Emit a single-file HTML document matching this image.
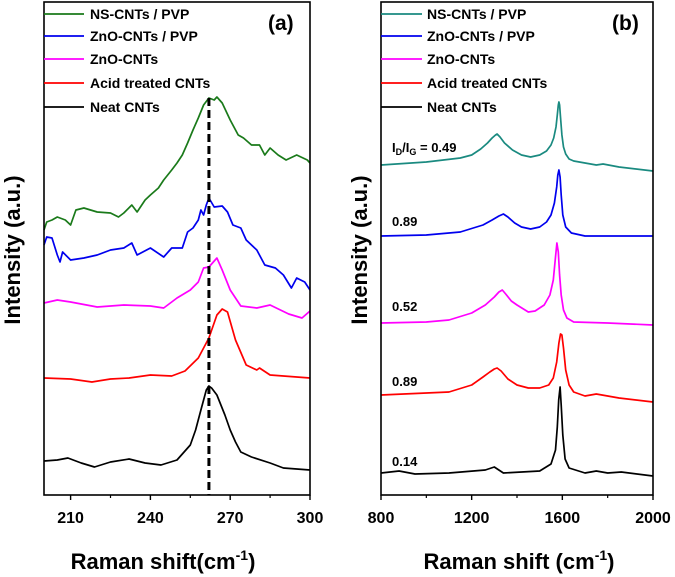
<!DOCTYPE html>
<html><head><meta charset="utf-8"><style>
body{margin:0;background:#fff}
svg{display:block;font-family:"Liberation Sans",Arial,sans-serif;font-weight:bold}
</style></head><body>
<svg id="c" width="675" height="577" viewBox="0 0 675 577" xmlns="http://www.w3.org/2000/svg"></svg>
<script>
// Panel (a) data: x = Raman shift, y = intensity height (a.u.)
const aX_green=[200,201,203,205,208,210,212,215,220,225,228,230,233,235,238,240,243,245,248,250,252,254,256,258,260,262,264,265,267,270,273,275,278,281,283,285,288,291,295,299,300];
const aY_green=[265,273,275,278,275,270,285,287,283,282,278,282,290,283,295,300,307,315,325,332,340,352,365,377,390,397,395,398,392,375,360,357,350,350,340,347,340,335,340,335,332];
const aX_blue=[200,201,203,205,206,207,210,215,220,225,230,233,235,240,245,248,252,254,256,258,259,260,261,262,264,267,269,271,274,276,280,283,287,290,293,295,298,300];
const aY_blue=[250,258,257,240,233,243,235,237,240,245,247,252,240,247,238,247,247,263,267,275,285,280,290,297,288,289,283,270,267,255,245,230,227,220,207,217,213,205];
const aX_mag=[200,205,210,220,230,240,245,250,255,258,260,262,265,267,270,274,280,285,292,297,300];
const aY_mag=[192,195,193,188,190,189,187,197,205,213,227,228,237,225,205,189,187,190,181,177,184];
const aX_red=[200,210,218,225,232,240,248,253,258,262,265,267,269,272,276,280,281,285,300];
const aY_red=[117,116,113,116,117,120,119,124,137,157,180,186,183,155,130,125,127,120,117];
const aX_blk=[200,205,209,214,219,225,232,238,244,250,255,257,259,261,262,263,265,268,270,272,274,278,285,290,295,300];
const aY_blk=[34,35,37,32,28,33,36,32,30,35,50,65,85,105,109,107,100,80,65,53,43,38,32,27,26,25];
const aTicks=[210,240,270,300];
const aMinor=[225,255,285];
// Panel (b) data
const bX_teal=[800,1000,1150,1200,1240,1270,1290,1305,1312,1325,1345,1380,1420,1460,1500,1530,1550,1562,1572,1578,1582,1585,1588,1592,1598,1605,1615,1630,1650,1700,1750,1780,1850,2000];
const bY_teal=[330,333,337,340,346,352,357,360,361,358,352,345,340,338,340,344,350,357,368,380,390,393,390,378,360,348,341,336,334,332,330,331,328,324];
const bX_blue=[800,1000,1150,1250,1290,1320,1340,1360,1390,1420,1460,1500,1530,1550,1565,1575,1580,1585,1590,1595,1602,1615,1640,1700,2000];
const bY_blue=[259,260,263,270,275,279,281,278,272,268,266,268,273,280,292,308,320,325,318,300,280,268,262,259,259];
const bX_mag=[800,1000,1100,1200,1260,1300,1320,1335,1350,1375,1400,1450,1480,1520,1545,1560,1570,1576,1582,1588,1595,1605,1620,1650,1800,2000];
const bY_mag=[172,173,175,182,190,198,203,205,201,194,190,183,184,190,200,215,238,252,243,220,200,185,177,173,172,170];
const bX_red=[800,1100,1200,1250,1280,1300,1312,1330,1360,1400,1450,1500,1540,1560,1575,1585,1592,1598,1605,1615,1630,1650,1700,1750,1850,2000];
const bY_red=[100,103,110,118,123,126,127,124,116,110,107,107,110,117,133,152,161,160,147,125,110,103,99,101,97,93];
const bX_blk=[800,880,950,1100,1260,1300,1340,1500,1550,1570,1578,1584,1590,1595,1602,1612,1630,1700,1750,1800,1860,2000];
const bY_blk=[22,24,21,22,25,28,22,24,31,45,68,95,108,90,60,36,27,22,24,22,23,19];
const bTicks=[800,1200,1600,2000];
const bMinor=[1000,1400,1800];
const labels=["NS-CNTs / PVP","ZnO-CNTs / PVP","ZnO-CNTs","Acid treated CNTs","Neat CNTs"];
const ratios=["0.49","0.89","0.52","0.89","0.14"];

const NS="http://www.w3.org/2000/svg";
const svg=document.getElementById('c');
function el(t,a,p){const e=document.createElementNS(NS,t);for(const k in a)e.setAttribute(k,a[k]);(p||svg).appendChild(e);return e;}
const TOP=2,BOT=495,YMAX=493;
const sy=v=>BOT-v*(BOT-TOP)/YMAX;
function panel(L,R,x0,x1,series,ticks,minor,name){
  const sx=v=>L+(v-x0)/(x1-x0)*(R-L);
  const g=el('g',{});
  
  
  series.forEach(s=>{
    const d=s.x.map((v,i)=>(i?'L':'M')+sx(v).toFixed(1)+','+sy(s.y[i]).toFixed(1)).join('');
    const p=el('path',{d:d,fill:'none',stroke:s.c,'stroke-width':1.7,'stroke-linejoin':'round'},g);
    
    
  });
  const f=el('rect',{x:L,y:TOP,width:R-L,height:BOT-TOP,fill:'none',stroke:'#000','stroke-width':1.6},g);
  
  
  ticks.forEach(t=>{
    el('line',{x1:sx(t),x2:sx(t),y1:BOT,y2:BOT+5,stroke:'#000','stroke-width':1.4},g);
    const tx=el('text',{x:sx(t),y:523,'text-anchor':'middle','font-size':16},g);
    tx.textContent=t;
    
    
  });
  minor.forEach(t=>el('line',{x1:sx(t),x2:sx(t),y1:BOT,y2:BOT+3,stroke:'#000','stroke-width':1.2},g));
  return sx;
}
const cols=['#1a7a1a','#0000ee','#ff00ff','#ff0000','#000000'];
const colsB=['#1a8a80','#0000ee','#ff00ff','#ff0000','#000000'];
const sxa=panel(44,310,200,300,[
 {x:aX_green,y:aY_green,c:cols[0],n:'series-ns-cnts-pvp'},
 {x:aX_blue,y:aY_blue,c:cols[1],n:'series-zno-cnts-pvp'},
 {x:aX_mag,y:aY_mag,c:cols[2],n:'series-zno-cnts'},
 {x:aX_red,y:aY_red,c:cols[3],n:'series-acid-treated'},
 {x:aX_blk,y:aY_blk,c:cols[4],n:'series-neat-cnts'}],aTicks,aMinor,'panel-a');
const dl=el('line',{x1:sxa(262),x2:sxa(262),y1:98,y2:BOT,stroke:'#000','stroke-width':3,'stroke-dasharray':'8,4'});


panel(381,653,800,2000,[
 {x:bX_teal,y:bY_teal,c:colsB[0],n:'series-ns-cnts-pvp'},
 {x:bX_blue,y:bY_blue,c:colsB[1],n:'series-zno-cnts-pvp'},
 {x:bX_mag,y:bY_mag,c:colsB[2],n:'series-zno-cnts'},
 {x:bX_red,y:bY_red,c:colsB[3],n:'series-acid-treated'},
 {x:bX_blk,y:bY_blk,c:colsB[4],n:'series-neat-cnts'}],bTicks,bMinor,'panel-b');
const ly=[14,36,59,83,107];
[[44,84,90,cols],[381,422,427,colsB]].forEach(([a,b,t,cc])=>{
  labels.forEach((lb,i)=>{
    el('line',{x1:a,x2:b,y1:ly[i],y2:ly[i],stroke:cc[i],'stroke-width':1.8});
    const tx=el('text',{x:t,y:ly[i]+5,'font-size':14});
    tx.textContent=lb;
    
    
  });
});
const ry=[152,226,311,386,466];
ratios.forEach((r,i)=>{
  const tx=el('text',{x:392,y:ry[i],'font-size':13});
  if(i===0){tx.innerHTML='I<tspan font-size="9" dy="3">D</tspan><tspan dy="-3">/I</tspan><tspan font-size="9" dy="3">G</tspan><tspan dy="-3"> = '+r+'</tspan>';}
  else tx.textContent=r;
  
  
});
function txt(s,a,n){const t=el('text',a);t.innerHTML=s;return t;}
txt('(a)',{x:268,y:30,'font-size':21},'panel-label-a');
txt('(b)',{x:612,y:30,'font-size':21},'panel-label-b');
txt('Intensity (a.u.)',{x:0,y:0,'font-size':22,'text-anchor':'middle',transform:'translate(20,250) rotate(-90)'},'y-axis-title-a');
txt('Intensity (a.u.)',{x:0,y:0,'font-size':22,'text-anchor':'middle',transform:'translate(367,250) rotate(-90)'},'y-axis-title-b');
txt('Raman shift(cm<tspan font-size="14" dy="-9">-1</tspan><tspan dy="9">)</tspan>',{x:163,y:569,'font-size':22,'text-anchor':'middle'},'x-axis-title-a');
txt('Raman shift (cm<tspan font-size="14" dy="-9">-1</tspan><tspan dy="9">)</tspan>',{x:519,y:569,'font-size':22,'text-anchor':'middle'},'x-axis-title-b');
</script>
</body></html>
